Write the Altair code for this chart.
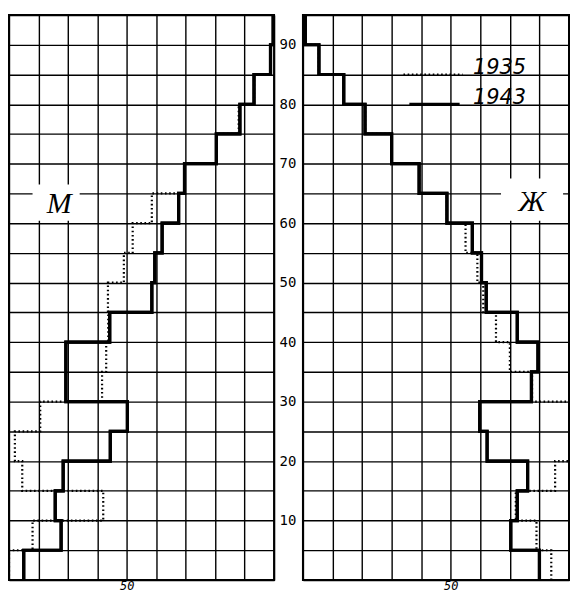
import altair as alt
import pandas as pd

# age groups (lower bound of 5-year group)
age_start = list(range(0, 95, 5))
# values, youngest group first
male_1943 = [85, 72.3, 74.3, 71.6, 55.6, 49.8, 70.7, 70.7, 55.8, 41.5, 40.5, 38, 32.4, 30.4, 19.6, 11.6, 6.8, 1.2, 0.3]
male_1935 = [90, 82, 58, 85.5, 88, 79.4, 58.4, 57, 56.3, 56.4, 51, 48, 41.5, 30.4, 19.6, 12, 6.8, 1.2, 0.3]
female_1943 = [80, 70.3, 72.5, 76, 62.3, 59.8, 77.3, 79.5, 72.5, 62, 60.4, 57.3, 48.7, 39.3, 30, 21, 13.8, 5.4, 0.8]
female_1935 = [84, 79, 72, 85.3, 96, 96, 77.5, 70, 65.3, 61, 59, 55, 48.7, 39.3, 30, 21, 13.8, 5.4, 0.8]

grid_x = list(range(0, 91, 10))
grid_y = list(range(0, 96, 5))
legend_years = ["1935", "1943"]


def steps(values):
    rows = []
    k = 0
    for a, v in zip(age_start, values):
        rows.append({"value": v, "age": a, "k": k}); k += 1
        rows.append({"value": v, "age": a + 5, "k": k}); k += 1
    return pd.DataFrame(rows)


def xs(rev):
    return alt.Scale(domain=[0, 90], reverse=rev, nice=False, zero=False)


YS = alt.Scale(domain=[0, 95], nice=False, zero=False)

XAXIS = alt.Axis(values=grid_x, grid=True, ticks=False, domain=False, title=None,
                 labelExpr="datum.value === 50 ? datum.label : ''",
                 labelFont="DejaVu Sans Mono", labelFontSize=12, labelColor="black",
                 labelPadding=1, labelFontStyle="italic")
YAXIS_L = alt.Axis(values=grid_y, grid=True, ticks=False, domain=False, title=None,
                   orient="right",
                   labelExpr="datum.value % 10 === 0 && datum.value > 0 ? datum.label : ''",
                   labelFont="DejaVu Sans Mono", labelFontSize=14, labelColor="black",
                   labelPadding=5, labelAlign="left", labelBaseline="middle")
YAXIS_R = alt.Axis(values=grid_y, grid=True, ticks=False, domain=False, title=None,
                   labels=False)


def enc(ch, xf, yf, rev, yaxis):
    return ch.encode(
        x=alt.X(xf, scale=xs(rev), axis=XAXIS, title=None),
        y=alt.Y(yf, scale=YS, axis=yaxis, title=None),
    )


def step_line(values, rev, yaxis, dotted):
    if dotted:
        m = alt.Chart(steps(values)).mark_line(color="black", strokeWidth=2.2,
                                                strokeDash=[1.6, 2.6], clip=True)
    else:
        m = alt.Chart(steps(values)).mark_line(color="black", strokeWidth=3.2, clip=True)
    return enc(m, "value:Q", "age:Q", rev, yaxis).encode(order="k:Q")


def patch(x0, x1, y0, y1, rev, yaxis):
    c = alt.Chart(pd.DataFrame({"value": [x0], "x1": [x1], "age": [y0], "y1": [y1]})).mark_rect(
        color="white")
    return enc(c, "value:Q", "age:Q", rev, yaxis).encode(x2="x1:Q", y2="y1:Q")


def label(txt, x, y, rev, yaxis, size):
    c = alt.Chart(pd.DataFrame({"value": [x], "age": [y], "t": [txt]})).mark_text(
        font="Liberation Serif", fontSize=size, fontStyle="italic", color="black",
        align="center", baseline="middle")
    return enc(c, "value:Q", "age:Q", rev, yaxis).encode(text="t:N")


W_L, W_R, GAP, H = 266, 267, 29, 567

left = alt.layer(
    step_line(male_1943, True, YAXIS_L, False),
    patch(66, 82, 60.4, 66.5, True, YAXIS_L),
    label("М", 73, 63.2, True, YAXIS_L, 30),
    step_line(male_1935, True, YAXIS_L, True),
    step_line(male_1943, True, YAXIS_L, False),
).properties(width=W_L, height=H)

leg_dot = enc(alt.Chart(pd.DataFrame({"value": [34, 54], "age": [85, 85]})).mark_line(
    color="black", strokeWidth=2.2, strokeDash=[1.6, 2.6]), "value:Q", "age:Q", False, YAXIS_R)
leg_sol = enc(alt.Chart(pd.DataFrame({"value": [36, 53], "age": [80, 80]})).mark_line(
    color="black", strokeWidth=3.2), "value:Q", "age:Q", False, YAXIS_R)
leg_txt = enc(alt.Chart(pd.DataFrame({"value": [57.5, 57.5], "age": [85, 80], "t": legend_years})).mark_text(
    font="DejaVu Sans", fontSize=21, fontStyle="italic", color="black", align="left",
    baseline="alphabetic", dy=0), "value:Q", "age:Q", False, YAXIS_R).encode(text="t:N")

right = alt.layer(
    step_line(female_1943, False, YAXIS_R, False),
    patch(67, 88, 60.4, 67.5, False, YAXIS_R),
    label("Ж", 77.5, 63.5, False, YAXIS_R, 30),
    leg_dot, leg_sol, leg_txt,
    step_line(female_1935, False, YAXIS_R, True),
    step_line(female_1943, False, YAXIS_R, False),
).properties(width=W_R, height=H)

chart = alt.hconcat(left, right, spacing=GAP, bounds="flush").properties(
    padding={"left": 0, "top": 5, "right": 0, "bottom": 0}
).configure_view(
    stroke="black", strokeWidth=2
).configure_axis(
    gridColor="black", gridWidth=1.4, gridOpacity=1
)

chart.save("out.html", embed_options={"renderer": "svg", "actions": False})
